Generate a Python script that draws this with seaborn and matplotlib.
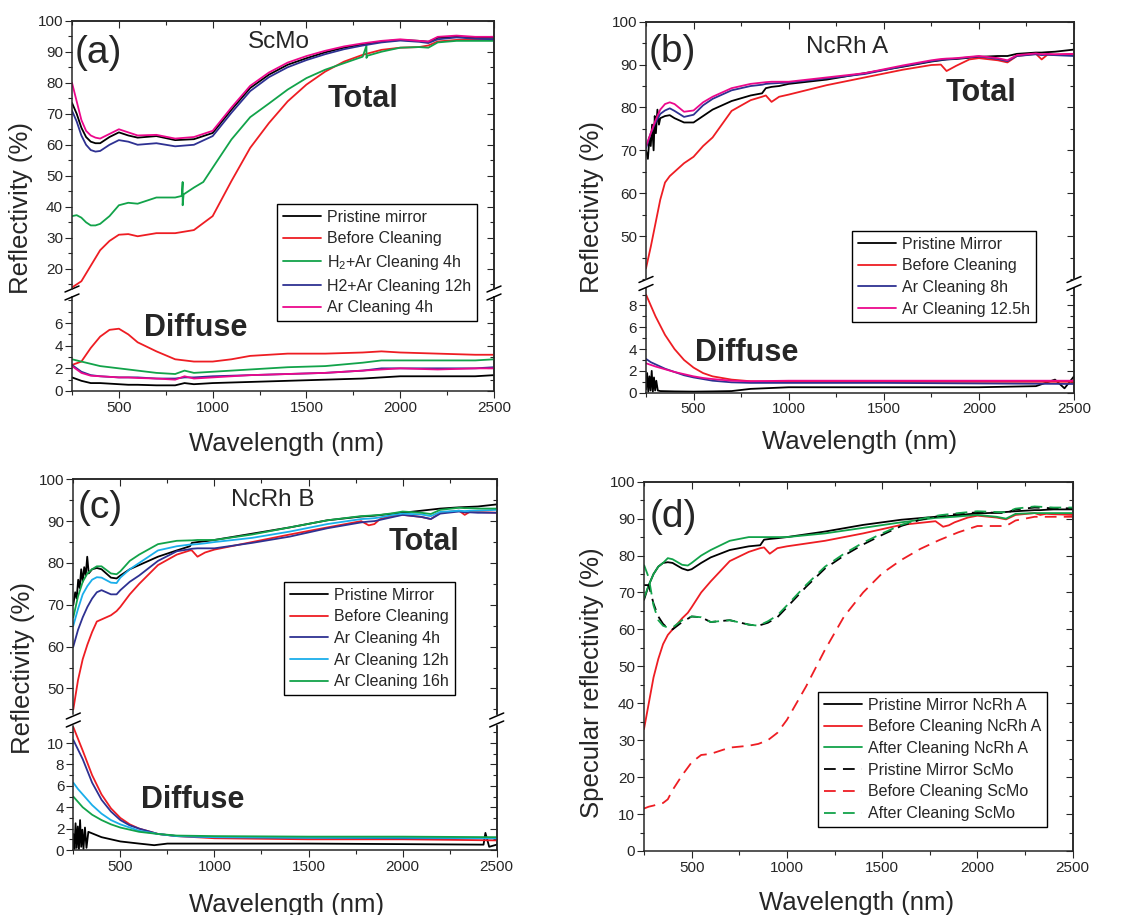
import numpy as np
import pandas as pd
import matplotlib
matplotlib.use("Agg")
import matplotlib.pyplot as plt
from matplotlib.ticker import MultipleLocator, FixedLocator
from matplotlib.lines import Line2D
import seaborn as sns

sns.set_style("ticks")
plt.rcParams['font.family'] = ['Liberation Sans', 'DejaVu Sans']
plt.rcParams['mathtext.fontset'] = 'custom'
plt.rcParams['mathtext.rm'] = 'Liberation Sans'

BLACK = '#000000'
RED = '#ee1d23'
GREEN = '#12a34a'
BLUE = '#2e3192'
PINK = '#ec088c'
CYAN = '#1aaeea'

# ---------------- (a) ScMo ----------------
a_wl = [250, 275, 300, 325, 350, 375, 400, 450, 500, 550, 600, 700, 800, 900, 1000,
        1100, 1200, 1300, 1400, 1500, 1600, 1700, 1800, 1900, 2000, 2100, 2150, 2200,
        2300, 2400, 2500]
a_pristine = [73.5, 70, 65.5, 62.5, 61, 60.5, 60.5, 62.5, 64, 63, 62.3, 62.8, 61.5, 61.8, 63.8,
              71.3, 78.3, 82.6, 85.8, 87.9, 89.8, 91.3, 92.4, 93.3, 93.8, 93.5, 93.2, 94.5,
              94.8, 94.5, 94.5]
a_before = [14, 15, 16, 18.5, 21, 23.5, 26, 29, 31, 31.2, 30.5, 31.5, 31.5, 32.5, 37,
            48.3, 59, 67, 74, 79.4, 83.6, 86.8, 89, 90.6, 91.3, 91.5, 92, 93.3,
            93.8, 93.8, 93.8]
a_h2_12h = [71, 67.5, 63, 60, 58.3, 57.8, 58, 60, 61.5, 61, 60, 60.5, 59.5, 60, 62.8,
            70.3, 77.3, 81.8, 85, 87.3, 89.2, 90.8, 92, 93, 93.6, 93.2, 92.8, 94,
            94.6, 94.2, 94]
a_ar_4h = [80, 74, 68, 64.5, 63, 62.3, 62, 63.5, 65, 64, 63, 63.2, 62, 62.5, 64.5,
           72, 79, 83.3, 86.5, 88.6, 90.3, 91.7, 92.7, 93.5, 94, 93.5, 93.3, 94.8,
           95.2, 94.8, 94.8]
a_h2_4h_wl = [250, 275, 300, 325, 350, 375, 400, 450, 500, 550, 600, 700, 800, 835, 840, 840,
              845, 900, 950, 1000, 1100, 1200, 1300, 1400, 1500, 1600, 1700, 1800, 1820,
              1820, 1825, 1900, 2000, 2100, 2150, 2200, 2300, 2400, 2500]
a_h2_4h = [37, 37.3, 36.5, 35, 34, 34, 34.5, 37, 40.5, 41.3, 41, 43, 43, 43.5, 48, 40.5,
           44, 46.2, 48, 52.6, 61.7, 68.9, 73.3, 77.8, 81.5, 84.2, 86.3, 88.4, 92,
           88, 88.7, 90, 91.3, 91.5, 91.3, 93, 93.5, 93.5, 93.5]

a_dif_wl = [250, 300, 350, 400, 450, 500, 550, 600, 700, 800, 850, 900, 1000, 1100, 1200,
            1400, 1600, 1800, 1900, 2000, 2200, 2400, 2500]
a_dif_before = [2.3, 2.6, 3.8, 4.8, 5.4, 5.5, 5.0, 4.3, 3.5, 2.8, 2.7, 2.6, 2.6, 2.8, 3.1,
                3.3, 3.3, 3.4, 3.5, 3.4, 3.3, 3.2, 3.2]
a_dif_h2_4h = [2.8, 2.6, 2.4, 2.2, 2.1, 2.0, 1.9, 1.8, 1.6, 1.5, 1.8, 1.6, 1.7, 1.8, 1.9,
               2.1, 2.2, 2.5, 2.7, 2.7, 2.7, 2.7, 2.8]
a_dif_h2_12h = [2.3, 1.7, 1.4, 1.3, 1.25, 1.2, 1.2, 1.2, 1.1, 1.1, 1.2, 1.2, 1.3, 1.35, 1.4,
                1.5, 1.6, 1.8, 2.0, 2.0, 2.0, 2.0, 2.1]
a_dif_ar_4h = [2.2, 1.6, 1.35, 1.3, 1.25, 1.2, 1.2, 1.15, 1.1, 1.0, 1.3, 1.1, 1.2, 1.3, 1.4,
               1.5, 1.6, 1.8, 1.9, 2.0, 1.9, 2.0, 2.0]
a_dif_pristine = [1.2, 0.9, 0.7, 0.7, 0.65, 0.6, 0.55, 0.55, 0.5, 0.5, 0.7, 0.6, 0.7, 0.75, 0.8,
                  0.9, 1.0, 1.1, 1.2, 1.3, 1.3, 1.3, 1.4]

# ---------------- (b) NcRh A ----------------
b_wl = [250, 275, 300, 325, 350, 375, 400, 450, 500, 550, 600, 700, 800, 860, 880,
        910, 950, 1000, 1200, 1400, 1600, 1750, 1800, 1830, 1880, 1950, 2000, 2100, 2150,
        2200, 2300, 2330, 2360, 2400, 2500]
b_before = [42.5, 47.5, 53, 58.5, 62.5, 64, 65, 67, 68.5, 71, 73, 79.2, 81.7, 82.5, 82.8,
            81.3, 82.5, 83, 85.2, 87, 88.8, 89.9, 90, 88.5, 89.7, 91.2, 91.5, 91, 90.5,
            92, 92.5, 91.2, 92.3, 92.3, 92.5]
b_ar_8h = [70.5, 74, 76.5, 78.5, 79.3, 79.8, 79.2, 77.8, 78.3, 80.5, 82, 84, 85, 85.3, 85.5,
           85.6, 85.7, 85.8, 86.8, 87.8, 89.6, 90.8, 91.1, 91.2, 91.4, 91.7, 91.9, 91.3, 90.8,
           92, 92.4, 92.2, 92.3, 92.2, 92]
b_ar_12h = [71, 74, 77, 79.5, 80.8, 81.2, 80.8, 79, 79.3, 81.2, 82.5, 84.5, 85.5, 85.8, 85.9,
            86, 86, 86, 87, 88, 89.8, 91, 91.3, 91.4, 91.5, 91.8, 92, 91.5, 91,
            92.2, 92.6, 92.4, 92.5, 92.4, 92.5]
b_pristine_wl = [250, 260, 268, 275, 282, 290, 296, 302, 310, 318, 325, 350, 375, 400, 450,
                 500, 550, 600, 700, 800, 860, 880, 910, 950, 1000, 1200, 1400, 1600, 1750,
                 1800, 1830, 1880, 1950, 2000, 2100, 2150, 2200, 2300, 2330, 2360, 2400, 2500]
b_pristine = [70, 68, 73, 71, 76, 70, 78, 74, 79.5, 76, 77.5, 78, 78.2, 77.5, 76.5,
              76.5, 78, 79.5, 81.5, 82.8, 83.3, 84.5, 84.8, 85, 85.5, 86.5, 88, 89.5, 90.7,
              91, 91.2, 91.3, 91.6, 91.8, 92, 92, 92.5, 92.8, 92.8, 92.9, 93, 93.5]

b_dif_wl = [250, 275, 300, 350, 400, 450, 500, 550, 600, 700, 800, 1000, 1500, 2000, 2500]
b_dif_before = [9, 8, 7, 5.3, 4, 3, 2.3, 1.8, 1.5, 1.2, 1.05, 1.0, 1.0, 1.0, 1.0]
b_dif_ar_8h = [3.1, 2.8, 2.6, 2.2, 1.9, 1.6, 1.4, 1.25, 1.1, 0.95, 0.9, 0.9, 0.9, 0.85, 0.8]
b_dif_ar_12h = [2.7, 2.55, 2.4, 2.15, 1.9, 1.7, 1.5, 1.35, 1.25, 1.1, 1.05, 1.1, 1.1, 1.1, 1.1]
b_dif_pristine_wl = [250, 256, 262, 268, 274, 280, 286, 292, 298, 304, 312, 325, 400, 500, 600,
                     700, 800, 1000, 1500, 2000, 2300, 2400, 2450, 2500]
b_dif_pristine = [0.3, 1.8, 0.1, 1.5, 0.2, 2.0, 0.1, 1.4, 0.2, 1.1, 0.2, 0.15, 0.12, 0.1, 0.12,
                  0.15, 0.35, 0.5, 0.5, 0.5, 0.6, 1.2, 0.4, 1.5]

# ---------------- (c) NcRh B ----------------
c_wl = [250, 275, 300, 325, 350, 375, 400, 450, 480, 500, 550, 600, 700, 800, 870,
        880, 910, 950, 1000, 1200, 1400, 1600, 1780, 1820, 1850, 1880, 1950, 2000, 2100,
        2150, 2200, 2300, 2330, 2360, 2400, 2500]
c_before = [45, 52, 57, 60.5, 63.5, 66, 66.5, 67.5, 68.5, 69.5, 72.5, 75, 79.5, 82, 83,
            83, 81.5, 82.5, 83.2, 85, 86.8, 88.5, 90, 89, 89.3, 90.5, 91.3, 91.5, 91,
            90.5, 92, 92.5, 91.5, 92.3, 92.2, 92]
c_ar_4h = [60, 64, 67, 69.5, 71.5, 73, 73.5, 72.5, 72.5, 73.5, 75.5, 77, 80.5, 82.8, 83.3,
           83.4, 83.5, 83.5, 83.5, 84.8, 86.3, 88.3, 89.7, 89.9, 90, 90.3, 91, 91.5, 91,
           90.5, 91.8, 92.3, 92.1, 92.1, 92, 92]
c_ar_12h = [65, 69, 72.5, 74.5, 76, 76.6, 76.5, 75.3, 75.2, 76.5, 78.5, 80, 83, 84, 84.4,
            84.4, 84.5, 84.7, 85, 86, 87.5, 89.3, 90.5, 90.6, 90.7, 90.9, 91.5, 91.8, 91.6,
            91.2, 92.2, 92.5, 92.4, 92.5, 92.5, 92.7]
c_ar_16h = [67, 72, 75.5, 77.5, 78.5, 79.2, 79.2, 77.5, 77.3, 78, 80.5, 82, 84.5, 85.3, 85.4,
            85.4, 85.5, 85.5, 85.5, 86.8, 88.5, 90.2, 91.2, 91.3, 91.4, 91.5, 91.9, 92.3, 92,
            91.7, 92.7, 93.2, 93.1, 93.1, 93, 93]
c_pristine_wl = [250, 260, 268, 276, 284, 292, 300, 308, 316, 324, 332, 350, 375, 400, 450,
                 480, 500, 550, 600, 700, 800, 870, 880, 910, 950, 1000, 1200, 1400, 1600,
                 1780, 1850, 1950, 2000, 2100, 2200, 2300, 2400, 2500]
c_pristine = [70, 73, 71.5, 76, 74, 78.5, 75.5, 79, 77, 81.5, 77.5, 78.5, 78.8, 78.5, 76.5,
              76.3, 77, 78.5, 79.5, 81.5, 83, 84, 84.8, 85, 85.2, 85.5, 87, 88.5, 90.2,
              91.1, 91.3, 91.8, 92, 92.5, 93, 93.3, 93.5, 94]

c_dif_wl = [250, 275, 300, 350, 400, 450, 500, 550, 600, 700, 800, 1000, 1500, 2000, 2500]
c_dif_before = [11.5, 10.4, 9.3, 7, 5.2, 3.9, 3.0, 2.4, 2.0, 1.5, 1.3, 1.1, 1.0, 1.0, 0.9]
c_dif_ar_4h = [10.3, 9.4, 8.5, 6.3, 4.7, 3.6, 2.8, 2.3, 2.0, 1.5, 1.3, 1.2, 1.15, 1.1, 1.1]
c_dif_ar_12h = [6.3, 5.7, 5.2, 4.2, 3.4, 2.8, 2.4, 2.1, 1.8, 1.5, 1.3, 1.2, 1.15, 1.15, 1.1]
c_dif_ar_16h = [5.0, 4.5, 4.0, 3.3, 2.8, 2.4, 2.1, 1.9, 1.7, 1.5, 1.35, 1.3, 1.25, 1.25, 1.2]
c_dif_pristine_wl = [250, 256, 262, 268, 274, 280, 286, 292, 298, 304, 312, 320, 330, 400, 500,
                     600, 680, 750, 900, 1500, 2000, 2430, 2440, 2460, 2500]
c_dif_pristine = [1.5, 0.1, 2.5, 0.2, 2.2, 0.1, 2.8, 0.3, 1.9, 0.1, 2.1, 0.2, 1.7, 1.2, 0.8,
                  0.6, 0.45, 0.6, 0.6, 0.6, 0.55, 0.5, 1.6, 0.3, 0.5]

# ---------------- (d) specular ----------------
d_wl = [250, 275, 300, 325, 350, 375, 400, 450, 480, 500, 550, 600, 700, 800, 860,
        880, 910, 950, 1000, 1200, 1400, 1600, 1780, 1820, 1850, 1880, 1950, 2000, 2100,
        2150, 2200, 2300, 2330, 2360, 2400, 2500]
d_pristine_ncrh = [68, 72, 75, 77, 78, 78.2, 78, 76.5, 76, 76.3, 78, 79.5, 81.5, 82.5, 82.8,
                   84.3, 84.5, 84.7, 85, 86.5, 88.3, 89.7, 90.5, 90.6, 90.7, 90.8, 91.2, 91.4, 91.6,
                   91.8, 92, 92.3, 92.3, 92.4, 92.5, 92.5]
d_before_ncrh = [33, 40, 47, 52, 56, 58.5, 60, 63, 64.5, 66, 70, 73, 78.5, 81, 82,
                 82.2, 80.5, 82, 82.5, 84, 86, 88.3, 89.3, 87.8, 88.2, 89, 90.3, 90.8, 90.3,
                 89.8, 91, 91.5, 91, 91.3, 91.2, 91]
d_after_ncrh = [68.5, 72, 75, 77, 78, 79.3, 79, 77.5, 77.3, 78, 80, 81.5, 84, 85, 85,
                85, 85, 85, 85, 86, 87.5, 89, 90.2, 90.3, 90.4, 90.5, 90.8, 91, 90.5,
                90, 91.3, 91.5, 91.5, 91.5, 91.5, 91.5]
d_sc_wl = [250, 275, 300, 325, 350, 375, 400, 450, 500, 550, 600, 700, 800, 850, 900,
           950, 1000, 1100, 1200, 1300, 1400, 1500, 1600, 1700, 1800, 1900, 2000, 2100, 2150,
           2200, 2300, 2400, 2500]
d_pristine_scmo = [72, 72, 67, 63.5, 61.5, 60.3, 60, 62, 63.5, 63.3, 62, 62.5, 61.3, 61, 61.8,
                   63.3, 66, 71.5, 76.5, 80, 83, 85.6, 88, 89.7, 90.7, 91.3, 91.7, 91.6, 91.5,
                   92.5, 93, 92.8, 92.8]
d_before_scmo = [11.5, 12, 12.3, 12.7, 13, 14, 16.5, 20.5, 24, 26, 26.3, 28, 28.5, 29, 30,
                 32, 35.5, 44.5, 54.5, 63.5, 70, 75.2, 78.8, 81.8, 84.2, 86.3, 88, 88, 88,
                 89.5, 90.5, 90.5, 90.5]
d_after_scmo = [77.5, 74, 66.5, 62.5, 61, 60.5, 60.5, 62.5, 63.5, 63.3, 62, 62.5, 61.3, 61, 62.2,
                63.8, 66.5, 72, 77, 80.5, 83.5, 86, 88.3, 89.9, 90.9, 91.5, 92, 91.8, 91.7,
                92.7, 93.3, 93, 93]

W, H = 1132, 915
fig = plt.figure(figsize=(W / 100, H / 100), dpi=100)

TICK_FS = 11
LAB_FS = 18.5
LEG_FS = 11.5


def fx(px):
    return px / W


def fy(py):
    return 1 - py / H


def style_axis(ax, top_visible, bottom_visible, major_y, minor_y, yticks=None):
    ax.set_xlim(250, 2500)
    ax.xaxis.set_major_locator(FixedLocator([500, 1000, 1500, 2000, 2500]))
    ax.xaxis.set_minor_locator(MultipleLocator(250))
    if yticks is not None:
        ax.yaxis.set_major_locator(FixedLocator(yticks))
    else:
        ax.yaxis.set_major_locator(MultipleLocator(major_y))
    ax.yaxis.set_minor_locator(MultipleLocator(minor_y))
    for s in ax.spines.values():
        s.set_linewidth(1.1)
    ax.spines['top'].set_visible(top_visible)
    ax.spines['bottom'].set_visible(bottom_visible)
    ax.tick_params(axis='y', which='both', left=True, right=False, direction='out',
                   labelsize=TICK_FS, width=0.8, pad=1.5)
    ax.tick_params(axis='y', which='major', length=5)
    ax.tick_params(axis='y', which='minor', length=3)
    ax.tick_params(axis='x', which='both', bottom=bottom_visible, top=False, direction='out',
                   labelbottom=bottom_visible, labelsize=TICK_FS, width=0.8, pad=2)
    ax.tick_params(axis='x', which='major', length=5)
    ax.tick_params(axis='x', which='minor', length=3)
    # mirrored ticks pointing inward
    sy = ax.secondary_yaxis('right')
    sy.yaxis.set_major_locator(ax.yaxis.get_major_locator())
    sy.yaxis.set_minor_locator(MultipleLocator(minor_y))
    sy.tick_params(axis='y', which='both', direction='in', labelright=False, width=0.8)
    sy.tick_params(axis='y', which='major', length=5)
    sy.tick_params(axis='y', which='minor', length=3)
    sy.spines['right'].set_linewidth(1.1)
    if top_visible:
        sx = ax.secondary_xaxis('top')
        sx.xaxis.set_major_locator(FixedLocator([500, 1000, 1500, 2000, 2500]))
        sx.xaxis.set_minor_locator(MultipleLocator(250))
        sx.tick_params(axis='x', which='both', direction='in', labeltop=False, width=0.8)
        sx.tick_params(axis='x', which='major', length=5)
        sx.tick_params(axis='x', which='minor', length=3)
        sx.spines['top'].set_linewidth(1.1)
    ax.set_xlabel('')
    ax.set_ylabel('')


def draw(ax, wl, vals, color, label=None, dashed=False):
    sns.lineplot(x=wl, y=vals, color=color, label=label, ax=ax, estimator=None,
                 sort=False, lw=1.3)
    if dashed:
        ax.lines[-1].set_dashes((6.5, 4))


def add_break(x_left, x_right, y_px):
    for xp in (x_left, x_right):
        for dy in (-4, 4):
            fig.add_artist(Line2D([fx(xp - 7), fx(xp + 7)], [fy(y_px + dy + 3), fy(y_px + dy - 3)],
                                  color='black', lw=1.1))


def legend(ax, x_px, y_px, handles_labels):
    handles, labels = handles_labels
    leg = ax.legend(handles, labels, loc='upper left', bbox_to_anchor=(fx(x_px), fy(y_px)),
                    bbox_transform=fig.transFigure, fontsize=LEG_FS, frameon=True,
                    fancybox=False, framealpha=1, edgecolor='black', handlelength=2.4,
                    handletextpad=0.4, labelspacing=0.42, borderpad=0.35, borderaxespad=0)
    leg.get_frame().set_linewidth(1.0)
    leg.set_zorder(10)


def broken_panel(left, right, top, brk_up, brk_low, bottom, ylim_up, ylim_low):
    ax_low = fig.add_axes([fx(left), fy(bottom), fx(right - left), fy(brk_low) - fy(bottom)])
    ax_up = fig.add_axes([fx(left), fy(brk_up), fx(right - left), fy(top) - fy(brk_up)])
    ax_up.set_zorder(3)
    ax_up.patch.set_alpha(0)
    ax_up.set_ylim(*ylim_up)
    ax_low.set_ylim(*ylim_low)
    return ax_up, ax_low


# ---------------- panel (a) ----------------
ax_up, ax_low = broken_panel(72, 494, 20.7, 289, 297, 391, (13.5, 100), (0, 8.3))
draw(ax_up, a_wl, a_pristine, BLACK, 'Pristine mirror')
draw(ax_up, a_wl, a_before, RED, 'Before Cleaning')
draw(ax_up, a_h2_4h_wl, a_h2_4h, GREEN, 'H$_2$+Ar Cleaning 4h')
draw(ax_up, a_wl, a_h2_12h, BLUE, 'H2+Ar Cleaning 12h')
draw(ax_up, a_wl, a_ar_4h, PINK, 'Ar Cleaning 4h')
draw(ax_low, a_dif_wl, a_dif_pristine, BLACK)
draw(ax_low, a_dif_wl, a_dif_before, RED)
draw(ax_low, a_dif_wl, a_dif_h2_4h, GREEN)
draw(ax_low, a_dif_wl, a_dif_h2_12h, BLUE)
draw(ax_low, a_dif_wl, a_dif_ar_4h, PINK)
hl = ax_up.get_legend_handles_labels()
style_axis(ax_up, True, False, 10, 5, yticks=[20, 30, 40, 50, 60, 70, 80, 90, 100])
style_axis(ax_low, False, True, 2, 1, yticks=[0, 2, 4, 6])
legend(ax_up, 277, 204, hl)
add_break(72, 494, 293)
fig.text(fx(98), fy(53), '(a)', fontsize=28, ha='center', va='center')
fig.text(fx(279), fy(42), 'ScMo', fontsize=17.5, ha='center', va='center')
fig.text(fx(363), fy(99), 'Total', fontsize=22, fontweight='bold', ha='center', va='center')
fig.text(fx(196), fy(328), 'Diffuse', fontsize=22, fontweight='bold', ha='center', va='center')
fig.text(fx(21), fy(208), 'Reflectivity (%)', fontsize=LAB_FS, rotation=90, ha='center', va='center')
fig.text(fx(287), fy(444), 'Wavelength (nm)', fontsize=LAB_FS, ha='center', va='center')

# ---------------- panel (b) ----------------
ax_up, ax_low = broken_panel(646, 1074, 21.7, 279, 288, 392.7, (40, 100), (0, 9.6))
draw(ax_up, b_pristine_wl, b_pristine, BLACK, 'Pristine Mirror')
draw(ax_up, b_wl, b_before, RED, 'Before Cleaning')
draw(ax_up, b_wl, b_ar_8h, BLUE, 'Ar Cleaning 8h')
draw(ax_up, b_wl, b_ar_12h, PINK, 'Ar Cleaning 12.5h')
draw(ax_low, b_dif_pristine_wl, b_dif_pristine, BLACK)
draw(ax_low, b_dif_wl, b_dif_before, RED)
draw(ax_low, b_dif_wl, b_dif_ar_8h, BLUE)
draw(ax_low, b_dif_wl, b_dif_ar_12h, PINK)
hl = ax_up.get_legend_handles_labels()
style_axis(ax_up, True, False, 10, 5, yticks=[50, 60, 70, 80, 90, 100])
style_axis(ax_low, False, True, 2, 1, yticks=[0, 2, 4, 6, 8])
legend(ax_up, 852, 231, hl)
add_break(646, 1074, 283.5)
fig.text(fx(672), fy(52), '(b)', fontsize=28, ha='center', va='center')
fig.text(fx(847), fy(47), 'NcRh A', fontsize=17.5, ha='center', va='center')
fig.text(fx(981), fy(93), 'Total', fontsize=22, fontweight='bold', ha='center', va='center')
fig.text(fx(747), fy(353), 'Diffuse', fontsize=22, fontweight='bold', ha='center', va='center')
fig.text(fx(592), fy(207), 'Reflectivity (%)', fontsize=LAB_FS, rotation=90, ha='center', va='center')
fig.text(fx(860), fy(442), 'Wavelength (nm)', fontsize=LAB_FS, ha='center', va='center')

# ---------------- panel (c) ----------------
ax_up, ax_low = broken_panel(73.3, 496.7, 479.3, 714, 726, 850, (43.9, 100), (0, 11.6))
draw(ax_up, c_pristine_wl, c_pristine, BLACK, 'Pristine Mirror')
draw(ax_up, c_wl, c_before, RED, 'Before Cleaning')
draw(ax_up, c_wl, c_ar_4h, BLUE, 'Ar Cleaning 4h')
draw(ax_up, c_wl, c_ar_12h, CYAN, 'Ar Cleaning 12h')
draw(ax_up, c_wl, c_ar_16h, GREEN, 'Ar Cleaning 16h')
draw(ax_low, c_dif_pristine_wl, c_dif_pristine, BLACK)
draw(ax_low, c_dif_wl, c_dif_before, RED)
draw(ax_low, c_dif_wl, c_dif_ar_4h, BLUE)
draw(ax_low, c_dif_wl, c_dif_ar_12h, CYAN)
draw(ax_low, c_dif_wl, c_dif_ar_16h, GREEN)
hl = ax_up.get_legend_handles_labels()
style_axis(ax_up, True, False, 10, 5, yticks=[50, 60, 70, 80, 90, 100])
style_axis(ax_low, False, True, 2, 1, yticks=[0, 2, 4, 6, 8, 10])
legend(ax_up, 284, 582, hl)
add_break(73.3, 496.7, 720)
fig.text(fx(100), fy(508), '(c)', fontsize=28, ha='center', va='center')
fig.text(fx(273), fy(500), 'NcRh B', fontsize=17.5, ha='center', va='center')
fig.text(fx(424), fy(542), 'Total', fontsize=22, fontweight='bold', ha='center', va='center')
fig.text(fx(193), fy(800), 'Diffuse', fontsize=22, fontweight='bold', ha='center', va='center')
fig.text(fx(23), fy(668), 'Reflectivity (%)', fontsize=LAB_FS, rotation=90, ha='center', va='center')
fig.text(fx(287), fy(905), 'Wavelength (nm)', fontsize=LAB_FS, ha='center', va='center')

# ---------------- panel (d) ----------------
ax = fig.add_axes([fx(644), fy(851), fx(1072.7 - 644), fy(481.7) - fy(851)])
ax.set_ylim(0, 100)
draw(ax, d_wl, d_pristine_ncrh, BLACK, 'Pristine Mirror NcRh A')
draw(ax, d_wl, d_before_ncrh, RED, 'Before Cleaning NcRh A')
draw(ax, d_wl, d_after_ncrh, GREEN, 'After Cleaning NcRh A')
draw(ax, d_sc_wl, d_pristine_scmo, BLACK, 'Pristine Mirror ScMo', dashed=True)
draw(ax, d_sc_wl, d_before_scmo, RED, 'Before Cleaning ScMo', dashed=True)
draw(ax, d_sc_wl, d_after_scmo, GREEN, 'After Cleaning ScMo', dashed=True)
hl = ax.get_legend_handles_labels()
style_axis(ax, True, True, 10, 5)
legend(ax, 818, 692, hl)
fig.text(fx(673), fy(517), '(d)', fontsize=28, ha='center', va='center')
fig.text(fx(592), fy(683), 'Specular reflectivity (%)', fontsize=LAB_FS, rotation=90,
         ha='center', va='center')
fig.text(fx(857), fy(903), 'Wavelength (nm)', fontsize=LAB_FS, ha='center', va='center')

fig.savefig('out.png', dpi=100)
